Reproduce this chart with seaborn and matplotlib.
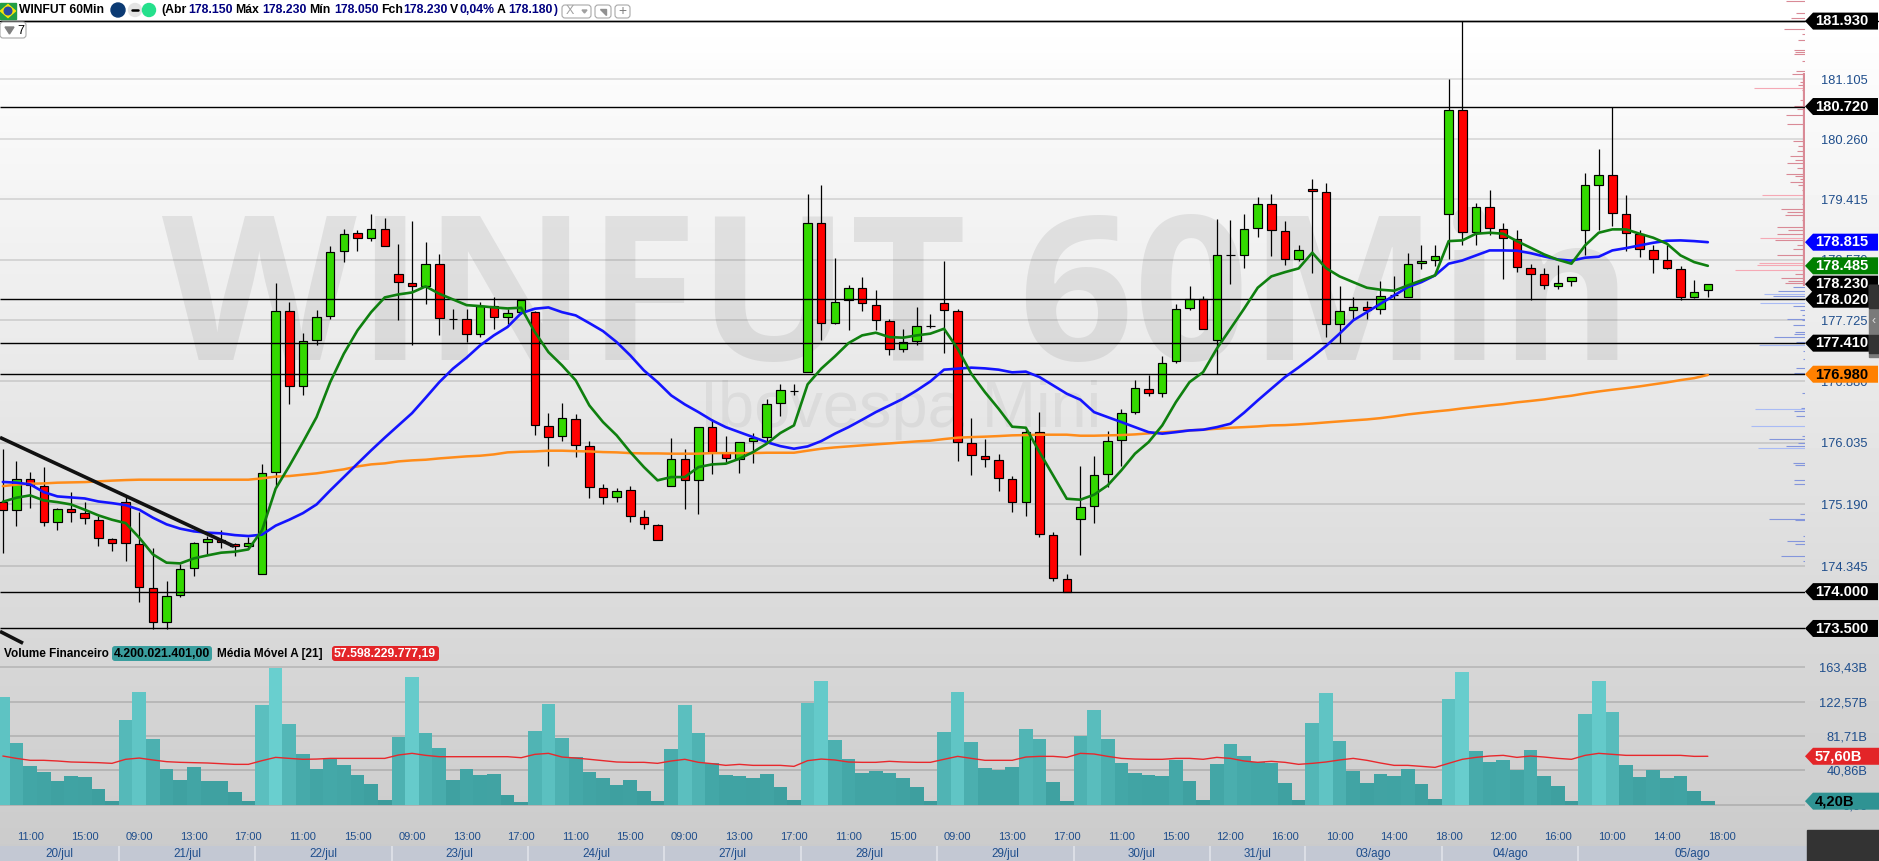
import numpy as np
import pandas as pd
import matplotlib
matplotlib.use('Agg')
import matplotlib.pyplot as plt
from matplotlib.patches import Polygon, Rectangle, Circle, FancyBboxPatch
from matplotlib.ticker import NullLocator
import seaborn as sns

# candles, one row per 60 min bar
opens = [175.226,175.117,175.542,175.446,174.953,175.131,175.076,174.98,174.721,175.226,174.653,174.053,173.59,173.958,174.325,174.68,174.708,174.653,174.625,174.245,
175.638,177.86,176.822,177.458,177.791,178.696,178.947,178.877,179.003,178.375,178.25,178.202,178.515,177.749,177.745,177.542,177.92,177.77,177.84,177.846,
176.27,176.132,176.366,175.995,175.416,175.295,175.391,175.021,174.912,175.436,175.816,175.519,176.256,175.899,175.816,176.064,176.119,176.586,176.752,177.006,
179.087,177.696,178.003,178.18,177.943,177.717,177.334,177.445,177.645,177.971,177.86,176.036,175.857,175.802,175.542,175.226,176.187,174.774,174.17,174.994,
175.172,175.61,176.077,176.462,176.78,176.725,177.167,177.902,178.026,177.458,178.64,178.64,179.017,179.353,178.975,178.584,179.563,179.52,177.68,177.874,
177.916,177.888,178.077,178.054,178.529,178.57,179.213,180.675,178.96,179.311,178.998,178.863,178.459,178.375,178.21,178.277,178.989,179.62,179.76,179.213,
178.933,178.71,178.57,178.445,178.054,178.15]
highs = [175.944,175.779,175.638,175.697,175.135,175.354,175.217,175.026,174.735,175.322,175.08,174.598,174.15,174.381,174.67,174.762,174.834,174.666,174.74,175.738,
178.25,177.975,177.546,177.864,178.756,179.003,178.98,179.213,179.147,178.784,179.105,178.812,178.644,177.888,177.888,177.98,178.056,177.888,178.003,177.85,
176.449,176.586,176.425,176.054,175.471,175.416,175.436,175.107,174.926,176.105,175.944,176.256,176.366,176.126,176.05,176.174,176.632,176.85,176.85,179.493,
179.609,178.588,178.212,178.324,178.142,177.745,177.61,177.905,177.82,178.546,177.888,176.37,176.082,175.875,175.574,176.229,176.463,174.815,174.234,175.71,
175.857,176.191,176.504,176.895,176.964,177.227,177.948,178.198,178.07,179.133,179.119,179.213,179.441,179.483,179.105,178.77,179.693,179.647,178.198,178.056,
177.99,178.28,178.35,178.668,178.78,178.77,181.11,181.93,179.367,179.539,179.087,178.989,178.515,178.459,178.49,178.332,179.79,180.115,180.72,179.469,
178.98,178.78,178.78,178.477,178.292,178.23]
lows = [174.524,174.889,175.135,174.889,174.834,174.944,174.917,174.616,174.547,174.415,173.857,173.494,173.494,173.925,174.207,174.507,174.588,174.48,174.584,174.245,
175.426,176.573,176.687,177.389,177.744,178.537,178.69,178.83,178.766,177.726,177.389,177.957,177.518,177.6,177.425,177.494,177.61,177.68,177.82,176.137,
175.715,176.058,175.838,175.275,175.189,175.221,174.944,174.853,174.697,175.436,175.131,175.062,175.61,175.77,175.619,175.756,176.058,176.402,176.687,177.006,
177.448,177.68,177.587,177.85,177.587,177.24,177.286,177.38,177.62,177.273,175.783,175.591,175.701,175.372,175.084,175.03,174.742,174.142,174.0,174.493,
174.934,175.426,175.71,176.435,176.673,176.664,177.134,177.864,177.601,176.98,178.226,178.448,178.882,178.616,178.49,178.55,178.38,177.494,177.41,177.726,
177.74,177.81,178.03,178.054,178.445,178.477,178.574,178.78,178.78,178.91,178.305,178.397,178.012,178.16,178.16,178.198,178.63,178.989,179.045,178.686,
178.606,178.38,178.435,178.012,178.04,178.05]
closes = [175.117,175.542,175.459,174.953,175.131,175.084,175.008,174.735,174.666,174.666,174.065,173.59,173.944,174.312,174.666,174.721,174.67,174.625,174.666,175.624,
177.86,176.822,177.445,177.777,178.676,178.933,178.877,179.003,178.766,178.263,178.202,178.515,177.763,177.749,177.542,177.92,177.77,177.832,178.003,176.284,
176.119,176.38,176.008,175.432,175.295,175.377,175.035,174.926,174.697,175.816,175.519,176.256,175.903,175.82,176.05,176.095,176.573,176.767,176.752,179.087,
177.696,177.985,178.18,177.971,177.735,177.334,177.431,177.651,177.645,177.874,176.05,175.871,175.816,175.555,175.226,176.187,174.788,174.188,174.0,175.152,
175.597,176.064,176.449,176.794,176.725,177.14,177.888,178.026,177.601,178.64,178.64,179.003,179.353,178.989,178.584,178.71,179.535,177.68,177.86,177.916,
177.874,178.07,178.077,178.515,178.557,178.626,180.675,178.96,179.311,179.017,178.877,178.472,178.375,178.22,178.25,178.332,179.62,179.76,179.227,178.947,
178.724,178.584,178.449,178.054,178.125,178.23]

# moving averages on price
ma_fast = [175.226,175.281,175.313,175.244,175.221,175.189,175.117,175.04,174.98,174.934,174.735,174.507,174.394,174.384,174.452,174.493,174.53,174.543,174.575,174.834,
175.405,175.715,176.044,176.388,176.871,177.264,177.587,177.84,178.045,178.087,178.114,178.198,178.096,178.017,177.938,177.924,177.906,177.892,177.902,177.564,
177.286,177.102,176.895,176.549,176.32,176.137,175.907,175.701,175.519,175.564,175.564,175.701,175.738,175.748,175.816,175.907,176.022,176.169,176.274,176.84,
177.057,177.227,177.411,177.518,177.555,177.494,177.486,177.518,177.542,177.61,177.334,176.987,176.733,176.504,176.256,176.242,175.907,175.587,175.267,175.254,
175.322,175.45,175.656,175.885,176.044,176.274,176.595,176.871,177.01,177.334,177.61,177.888,178.18,178.338,178.397,178.449,178.668,178.453,178.338,178.258,
178.18,178.152,178.138,178.212,178.282,178.352,178.83,178.84,178.933,178.947,178.933,178.83,178.738,178.644,178.57,178.515,178.77,178.947,178.994,178.994,
178.933,178.877,178.794,178.63,178.537,178.485]
ma_mid = [175.497,175.487,175.464,175.358,175.299,175.285,175.271,175.23,175.207,175.18,175.117,175.008,174.917,174.858,174.821,174.803,174.794,174.77,174.757,174.776,
174.899,174.98,175.07,175.189,175.381,175.564,175.748,175.93,176.105,176.274,176.443,176.655,176.871,177.057,177.209,177.38,177.518,177.634,177.826,177.888,
177.906,177.84,177.795,177.688,177.577,177.425,177.24,177.033,176.871,176.687,176.563,176.457,176.343,176.25,176.181,176.113,176.044,175.989,175.953,175.985,
176.058,176.16,176.25,176.352,176.457,176.549,176.642,176.756,176.881,177.043,177.057,177.071,177.061,177.043,177.006,177.016,176.941,176.826,176.711,176.628,
176.457,176.388,176.32,176.25,176.181,176.16,176.181,176.205,176.215,176.25,176.297,176.449,176.618,176.78,176.941,177.075,177.217,177.37,177.542,177.726,
177.84,177.957,178.073,178.188,178.258,178.352,178.515,178.56,178.63,178.70,178.70,178.696,178.662,178.616,178.574,178.557,178.598,178.612,178.70,178.732,
178.77,178.807,178.835,178.84,178.83,178.815]
ma_slow = [175.44,175.46,175.473,175.477,175.487,175.491,175.495,175.505,175.515,175.523,175.528,175.528,175.528,175.528,175.528,175.528,175.528,175.528,175.528,175.546,
175.57,175.578,175.597,175.615,175.642,175.67,175.71,175.738,175.752,175.779,175.793,175.802,175.82,175.834,175.848,175.857,175.875,175.903,175.912,175.916,
175.926,175.926,175.92,175.916,175.907,175.903,175.893,175.889,175.889,175.885,175.885,175.885,175.893,175.893,175.893,175.893,175.898,175.898,175.898,175.926,
175.953,175.971,175.985,175.999,176.013,176.026,176.04,176.054,176.064,176.086,176.105,176.113,176.119,176.127,176.137,176.141,176.146,176.146,176.146,176.132,
176.132,176.137,176.141,176.15,176.164,176.178,176.191,176.205,176.215,176.228,176.242,176.25,176.26,176.274,176.278,176.288,176.30,176.315,176.329,176.343,
176.356,176.374,176.398,176.425,176.446,176.466,176.484,176.508,176.528,176.549,176.567,176.592,176.611,176.632,176.66,176.683,176.715,176.742,176.766,176.788,
176.812,176.84,176.867,176.899,176.926,176.97]

# financial volume in billions and its 21 period average
volume = [128.1,73.4,46.0,38.9,28.2,34.1,32.9,18.6,4.4,
100.8,134.1,78.2,42.4,29.4,44.8,28.2,28.2,15.1,4.4,
118.6,162.6,96.0,60.3,42.4,54.3,47.2,35.3,24.6,5.6,
80.5,151.9,85.3,67.4,29.4,42.4,35.3,36.5,11.5,3.2,
87.7,119.8,79.3,56.7,38.9,31.7,23.4,29.4,16.3,4.4,
66.2,118.6,85.3,49.6,35.3,34.1,31.7,36.5,21.0,5.6,
121.0,147.2,77.0,54.3,37.7,40.1,37.7,31.7,21.0,4.4,
86.5,134.1,74.6,43.6,41.3,44.8,90.1,78.2,27.0,4.4,
81.7,112.7,78.2,49.6,37.7,35.3,34.1,53.2,28.2,5.6,
48.4,72.2,57.9,50.8,49.6,25.8,5.6,
97.2,132.9,75.8,40.1,25.8,36.5,34.1,42.4,24.6,6.7,
125.8,157.9,63.9,50.8,53.2,41.3,65.1,34.1,22.2,4.4,
107.9,147.2,110.3,47.2,32.9,41.3,31.7,34.1,16.3,4.2]
volume_ma = [57.9,55.1,52.8,52.8,52.0,50.8,50.4,50.0,49.2,
54.0,55.5,53.2,51.2,50.4,50.0,49.6,48.8,48.0,48.0,
52.4,56.3,55.1,54.0,54.3,55.1,55.1,55.1,55.1,55.1,
59.1,61.1,58.7,57.1,57.1,57.1,57.1,57.1,57.1,55.9,
59.9,61.1,56.7,55.5,54.0,52.4,50.8,50.4,50.4,49.2,
52.0,54.0,50.4,48.8,46.8,48.0,46.8,46.8,46.8,45.6,
52.4,54.3,53.2,50.8,50.4,50.4,51.6,50.8,50.4,50.4,
54.0,57.5,55.1,52.8,52.8,52.8,56.7,57.5,57.5,56.3,
61.1,60.3,57.5,55.1,54.3,54.0,54.0,55.1,55.1,54.0,
56.3,55.1,52.0,50.4,51.6,50.4,48.0,
49.2,50.8,53.2,55.1,52.8,49.6,46.8,46.8,45.6,44.4,
49.2,54.0,56.3,57.9,58.7,56.3,57.9,56.7,55.1,54.0,
58.7,61.1,59.9,58.7,58.7,58.7,58.7,58.7,57.5,57.6]

# volume at price, on the right edge of the chart
ask_prices = [182.21,182.04,181.98,181.82,181.75,181.665,181.52,181.49,181.47,181.37,181.22,181.18,181.07,181.03,180.98,180.95,180.81,180.73,180.68,180.60,180.47,180.24,180.17,180.10,180.02,179.97,
179.93,179.86,179.77,179.74,179.70,179.655,179.61,179.54,179.48,179.35,179.28,179.24,179.19,179.13,179.025,178.98,178.93,178.87,178.84,178.77,178.72,178.63,178.52,178.49,178.43,178.375,178.32,178.27,178.245]
ask_sizes = [19,9,14,21,3,7,11,10,11,3,9,13,5,7,51,3,5,11,8,19,18,12,7,8,15,10,
18,8,19,10,5,15,7,3,43,3,24,18,20,3,28,17,28,45,30,8,12,28,46,48,70,10,24,17,20]
bid_prices = [178.19,178.13,178.087,178.07,177.97,177.93,177.875,177.795,177.75,177.725,177.665,177.56,177.54,177.49,177.425,177.39,177.295,177.19,177.07,177.0,176.99,176.725,176.515,176.50,176.47,176.405,176.27,176.13,176.08,176.035,175.99,175.96,175.76,175.73,175.52,175.47,175.06,174.99,174.98,174.76,174.69,174.65,174.49,174.415]
bid_sizes = [12,27,41,32,45,12,5,3,18,3,12,10,11,31,9,46,2,2,9,11,45,3,4,50,11,9,54,3,36,7,19,47,12,10,11,11,5,36,10,2,18,10,24,2]

price_ticks = [181.105,180.26,179.415,178.57,177.725,176.88,176.035,175.19,174.345]
level_lines = [181.93,180.72,178.02,177.41,176.98,174.0,173.5]
price_tags = [(178.23,'178.230','#000000','white'),(181.93,'181.930','#000000','white'),(180.72,'180.720','#000000','white'),
              (178.815,'178.815','#0000ff','white'),(178.485,'178.485','#008000','white'),(178.02,'178.020','#000000','white'),
              (177.41,'177.410','#000000','white'),(176.98,'176.980','#ff8000','black'),(174.0,'174.000','#000000','white'),(173.5,'173.500','#000000','white')]
vol_ticks = [163.43,122.57,81.71,40.86,0]
vol_tick_labels = ['163,43B','122,57B','81,71B','40,86B','0,00']
time_labels = ['11:00','15:00','09:00','13:00','17:00','11:00','15:00','09:00','13:00','17:00','11:00','15:00','09:00','13:00','17:00','11:00',
               '15:00','09:00','13:00','17:00','11:00','15:00','12:00','16:00','10:00','14:00','18:00','12:00','16:00','10:00','14:00','18:00']
day_names = ['20/jul','21/jul','22/jul','23/jul','24/jul','27/jul','28/jul','29/jul','30/jul','31/jul','03/ago','04/ago','05/ago']
day_starts = [0,9,19,29,39,49,59,69,79,89,96,106,116]

W, H = 1879, 861
AX_R = 1805
BAR_PX = 13.64
X_LEFT = -2.84 / BAR_PX
X_RIGHT = (AX_R - 2.84) / BAR_PX

GREEN = '#33d900'
RED = '#ff0000'
NAVY = '#000080'
AXIS_BLUE = '#1f4e8c'

sns.set_theme(style='white')
plt.rcParams['font.family'] = ['Liberation Sans', 'DejaVu Sans']


def px_axes(fig, left, top, right, bottom, **kw):
    return fig.add_axes([left / W, (H - bottom) / H, (right - left) / W, (bottom - top) / H], **kw)


fig = plt.figure(figsize=(W / 100, H / 100), dpi=100)

# background gradient and watermark
ax_bg = px_axes(fig, 0, 0, W, H)
ax_bg.set_zorder(0)
shade = np.clip(255 - 0.063 * (np.arange(H) - 21), 0, 255)
ax_bg.imshow(shade[:, None], cmap='gray', vmin=0, vmax=255, aspect='auto', extent=(0, W, H, 0))
ax_bg.set_xlim(0, W)
ax_bg.set_ylim(H, 0)
ax_bg.axis('off')
ax_bg.text(897, 360, 'WINFUT 60Min', family='Open Sans', weight='bold', fontsize=145, ha='center', va='baseline',
           color='black', alpha=0.075)
ax_bg.text(901, 427, 'Ibovespa Mini', fontsize=46.8, ha='center', va='baseline', color='black', alpha=0.05)

# price pane
ax = px_axes(fig, 0, 0, AX_R, 645)
ax.set_zorder(1)
ax.patch.set_visible(False)
ax.set_yscale('log')
ax.set_xlim(X_LEFT, X_RIGHT)
ax.set_ylim(173.276, 182.23)
idx = np.arange(len(opens))
ax.hlines(price_ticks, X_LEFT, X_RIGHT, color='black', alpha=0.14, lw=1.1, zorder=1)

o, h, l, c = map(np.array, (opens, highs, lows, closes))
colors = [GREEN if cl >= op else RED for op, cl in zip(o, c)]
ax.vlines(idx, l, h, color='black', lw=0.9, zorder=2)
ax.bar(idx, np.abs(c - o), bottom=np.minimum(o, c), width=0.62, color=colors, edgecolor='black', linewidth=0.85, zorder=3)
ax.hlines(level_lines, X_LEFT, X_RIGHT, color='black', lw=1.0, zorder=4)

ax.hlines(ask_prices, X_RIGHT - np.array(ask_sizes) / BAR_PX, X_RIGHT,
          colors=['#f5a9b5' if s > 40 else '#d98a96' for s in ask_sizes], lw=0.8, zorder=2)
ax.hlines(bid_prices, X_RIGHT - np.array(bid_sizes) / BAR_PX, X_RIGHT,
          colors=['#a9bbf5' if s > 40 else '#8496dc' for s in bid_sizes], lw=0.8, zorder=2)
ax.vlines(X_RIGHT - 0.06, 178.2, 181.2, color='#d98a96', lw=1.6, zorder=2)

price_df = pd.DataFrame({'i': idx, 'fast': ma_fast, 'mid': ma_mid, 'slow': ma_slow})
sns.lineplot(data=price_df, x='i', y='slow', color='#ff8c1a', lw=1.8, ax=ax, zorder=5, estimator=None)
sns.lineplot(data=price_df, x='i', y='mid', color='#1414ff', lw=1.9, ax=ax, zorder=5, estimator=None)
sns.lineplot(data=price_df, x='i', y='fast', color='#0f800f', lw=1.9, ax=ax, zorder=5, estimator=None)

# hand drawn trend lines
ax.plot([X_LEFT, 16.95], [176.108, 174.616], color='#111111', lw=2.6, zorder=6, solid_capstyle='butt')
ax.plot([X_LEFT, 1.48], [173.46, 173.30], color='#111111', lw=2.6, zorder=6, solid_capstyle='butt')

ax.set_xlabel('')
ax.set_ylabel('')
ax.set_xticks([])
ax.yaxis.tick_right()
ax.set_yticks(price_ticks, [f'{p:.3f}' for p in price_ticks])
ax.yaxis.set_minor_locator(NullLocator())
ax.tick_params(axis='y', length=0, pad=11.5, labelsize=9.3, labelcolor=AXIS_BLUE)
sns.despine(ax=ax, left=True, bottom=True, right=True, top=True)

# volume pane
VOL_PX = 0.8406
ax_vol = px_axes(fig, 0, 645, AX_R, 826)
ax_vol.set_zorder(1)
ax_vol.patch.set_visible(False)
ax_vol.hlines(vol_ticks, X_LEFT, X_RIGHT, color='black', alpha=0.16, lw=1.1, zorder=1)
vol_df = pd.DataFrame({'i': idx, 'vol': volume, 'ma': volume_ma})
bar_cmap = sns.blend_palette(['#3a9a9a', '#44a8a8', '#58bcbc', '#6ad0d0'], as_cmap=True)
sns.barplot(data=vol_df, x='i', y='vol', hue='vol', palette=bar_cmap, hue_norm=(0, 165), native_scale=True, dodge=False,
            legend=False, width=1.0, saturation=1, errorbar=None, linewidth=0, ax=ax_vol, zorder=2)
sns.lineplot(data=vol_df, x='i', y='ma', color='#e8282c', lw=1.0, ax=ax_vol, zorder=3, estimator=None)
ax_vol.set_xlim(X_LEFT, X_RIGHT)
ax_vol.set_ylim(-(826 - 804.7) / VOL_PX, (804.7 - 645) / VOL_PX)
ax_vol.set_xlabel('')
ax_vol.set_ylabel('')
ax_vol.set_xticks(np.arange(len(time_labels)) * 4 + 2, time_labels)
ax_vol.tick_params(axis='x', length=0, pad=4.3, labelsize=8, labelcolor=AXIS_BLUE)
ax_vol.yaxis.tick_right()
ax_vol.set_yticks(vol_ticks, vol_tick_labels)
ax_vol.tick_params(axis='y', length=0, pad=45, labelsize=9.3, labelcolor=AXIS_BLUE)
for t in ax_vol.get_yticklabels():
    t.set_ha('right')
sns.despine(ax=ax_vol, left=True, bottom=True, right=True, top=True)

# date strip
ax_day = px_axes(fig, 0, 846, 1807, H)
ax_day.set_zorder(2)
ax_day.set_xlim(X_LEFT, (1807 - 2.84) / BAR_PX)
ax_day.set_ylim(0, 1)
ax_day.set_facecolor('#c3c8d3')
ax_day.set_xticks([])
ax_day.set_yticks([])
sns.despine(ax=ax_day, left=True, bottom=True, right=True, top=True)
edges = [X_LEFT] + [s - 0.5 for s in day_starts[1:]] + [ax_day.get_xlim()[1]]
for k, name in enumerate(day_names):
    if k > 0:
        ax_day.axvline(edges[k], color='#dcdfe6', lw=1.4)
    ax_day.text((edges[k] + edges[k + 1]) / 2, 0.46, name, ha='center', va='center', fontsize=8.4, color=AXIS_BLUE)

# everything drawn in screen pixels: header, price tags, corners
ov = px_axes(fig, 0, 0, W, H)
ov.set_zorder(5)
ov.patch.set_visible(False)
ov.set_xlim(0, W)
ov.set_ylim(H, 0)
ov.axis('off')


def price_y(p):
    return H - ax.transData.transform((0, p))[1]


def vol_y(v):
    return H - ax_vol.transData.transform((0, v))[1]


def tag(y, label, fill, ink, right=1878):
    ov.add_patch(Polygon([(1805, y), (1813, y - 8.5), (right, y - 8.5), (right, y + 8.5), (1813, y + 8.5)],
                         closed=True, facecolor=fill, edgecolor='none', zorder=3))
    ov.text(1815, y + 0.3, label, color=ink, fontsize=10.6, weight='bold', va='center', ha='left', zorder=4)


for p, label, fill, ink in price_tags:
    tag(price_y(p), label, fill, ink)
tag(vol_y(volume_ma[-1]), '57,60B', '#e32528', 'white', right=W)
tag(vol_y(volume[-1]), '4,20B', '#2f9393', 'black', right=W)

# header line under toolbar
ov.plot([0, W], [21, 21], color='black', lw=1.0, zorder=1)

# flag and status icons
ov.add_patch(Rectangle((0, 3), 16, 16, color='#229e45', zorder=2))
ov.add_patch(Polygon([(0.5, 11), (8, 4.5), (15.5, 11), (8, 17.5)], color='#f8e509', zorder=3))
ov.add_patch(Circle((8, 11), 3.8, color='#2b49a3', zorder=4))
ov.add_patch(Circle((118, 10), 7, color='#0b3a73', zorder=2))
ov.add_patch(Circle((135, 10), 6.5, color='#e4e4e4', zorder=2))
ov.plot([132, 138], [10, 10], color='black', lw=1.8, zorder=3)
ov.add_patch(Circle((149, 10), 6.5, color='#25e08c', zorder=2))

ov.text(19, 10, 'WINFUT 60Min', fontsize=8.7, color='black', va='center', ha='left', weight='bold')
header = [(161.6, '(Abr', 'black'), (188.4, '178.150', NAVY), (235, 'Máx', 'black'), (262.5, '178.230', NAVY),
          (309, 'Mín', 'black'), (334, '178.050', NAVY), (381, 'Fch', 'black'), (403, '178.230', NAVY),
          (450, 'V', 'black'), (460, '0,04%', NAVY), (497, 'A', 'black'), (508, '178.180', NAVY), (553.5, ')', NAVY)]
for x, s, col in header:
    ov.text(x, 10, s, fontsize=8.8, color=col, va='center', ha='left', weight='bold')

# toolbar buttons
for x0, x1 in [(562, 591), (595, 611), (615, 630)]:
    ov.add_patch(FancyBboxPatch((x0, 5), x1 - x0, 13, boxstyle='round,pad=0,rounding_size=3', facecolor='white',
                                edgecolor='#a8a8a8', lw=0.8, zorder=2))
ov.text(570, 11.5, 'X', fontsize=9, color='#a0a0a0', ha='center', va='center', zorder=3)
ov.add_patch(Polygon([(582, 10), (587, 10), (584.5, 13)], color='#a0a0a0', zorder=3))
ov.add_patch(Polygon([(600, 9), (606, 9), (606, 15)], color='#909090', zorder=3))
ov.text(622.5, 11, '+', fontsize=10, color='#808080', ha='center', va='center', zorder=3)

ov.add_patch(FancyBboxPatch((0, 22), 26, 16, boxstyle='round,pad=0,rounding_size=3', facecolor='white', edgecolor='#a8a8a8',
                            lw=0.8, zorder=2))
ov.add_patch(Polygon([(5, 27), (14, 27), (9.5, 34)], color='#808080', zorder=3))
ov.text(20.5, 30.5, '7', fontsize=9, color='black', ha='center', va='center', zorder=3)

# indicator legend of the volume pane
ov.text(4, 654, 'Volume Financeiro', fontsize=8.5, color='black', va='center', ha='left', zorder=3, weight='bold')
ov.add_patch(FancyBboxPatch((112, 646), 100, 15, boxstyle='round,pad=0,rounding_size=3', facecolor='#3a9e9e', edgecolor='none', zorder=2))
ov.text(114, 654, '4.200.021.401,00', fontsize=8.8, color='black', va='center', ha='left', zorder=3, weight='bold')
ov.text(217, 654, 'Média Móvel A [21]', fontsize=8.5, color='black', va='center', ha='left', zorder=3, weight='bold')
ov.add_patch(FancyBboxPatch((332, 646), 107, 15, boxstyle='round,pad=0,rounding_size=3', facecolor='#e32528', edgecolor='none', zorder=2))
ov.text(334, 654, '57.598.229.777,19', fontsize=8.8, color='white', va='center', ha='left', zorder=3, weight='bold')

# corner block and side handle
ov.add_patch(Rectangle((1807, 830), W - 1807, H - 830, color='#333333', zorder=5))
ov.add_patch(Rectangle((1869, 285), 10, 72, color='#7a7a7a', zorder=5))
ov.add_patch(Rectangle((1869, 285), 10, 23, color='#333333', zorder=6))
ov.add_patch(Rectangle((1869, 335), 10, 18, color='#333333', zorder=6))
ov.text(1874, 321, '‹', fontsize=9, color='#dddddd', ha='center', va='center', zorder=7)

fig.savefig('out.png', dpi=100)
